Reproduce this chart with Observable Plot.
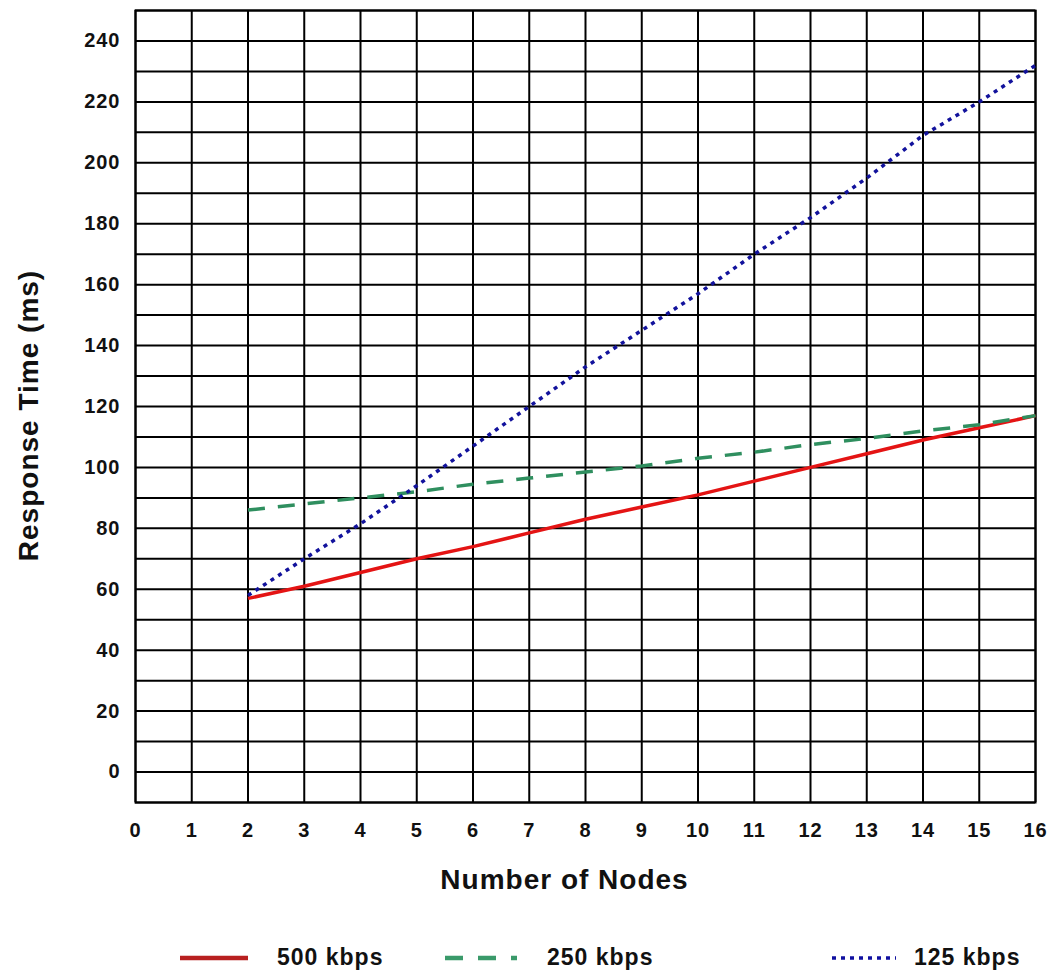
<!DOCTYPE html>
<html>
<head>
<meta charset="utf-8">
<script src="https://cdn.jsdelivr.net/npm/d3@7"></script>
<script src="https://cdn.jsdelivr.net/npm/@observablehq/plot@0.6"></script>
<style>
  body { margin: 0; background: #fff; font-family: "Liberation Sans", Arial, sans-serif; }
  #wrap { width: 1053px; }
  #legend { position: relative; width: 1053px; height: 62px; font-weight: bold; font-size: 23px; letter-spacing: 1px; color: #111; }
  #legend .sw { position: absolute; top: 44px; }
  #legend .lb { position: absolute; top: 34px; line-height: 26px; }
</style>
</head>
<body>
<div id="wrap"></div>
<script>
const nodes = [2, 3, 4, 5, 6, 7, 8, 9, 10, 11, 12, 13, 14, 15, 16];
const rt500 = [57, 61, 65.5, 70, 74, 78.5, 83, 87, 91, 95.5, 100, 104.5, 109, 113, 117];
const rt250 = [86, 88, 90, 92, 94.5, 96.5, 98.5, 100.5, 103, 105, 107.5, 109.5, 112, 114, 117];
const rt125 = [58, 70, 81.5, 94, 107, 120, 133, 145, 157, 170, 182, 195, 209, 220, 232];
const seriesNames = ["500 kbps", "250 kbps", "125 kbps"];
const xTicks = d3.range(0, 17, 1);
const yTicks = d3.range(0, 241, 20);
const yGrid = d3.range(-10, 251, 10);
const xTitle = "Number of Nodes";
const yTitle = "Response Time (ms)";

const colors = ["#e41414", "#2f8f5f", "#12129c"];
const dashes = [null, "17,13", "4,5"];

const seriesData = [rt500, rt250, rt125].map((vals, i) =>
  nodes.map((n, j) => ({ n, v: vals[j], s: seriesNames[i] })));

const font = '"Liberation Sans", Arial, sans-serif';

const chart = Plot.plot({
  width: 1053,
  height: 910,
  marginLeft: 135,
  marginRight: 18,
  marginTop: 10,
  marginBottom: 108,
  style: { fontFamily: font, fontSize: "20px", fontWeight: "bold", color: "#111", background: "#fff", letterSpacing: "1px" },
  x: { domain: [0, 16] },
  y: { domain: [-10, 250] },
  marks: [
    Plot.gridX(xTicks, { stroke: "#000", strokeOpacity: 1, strokeWidth: 2 }),
    Plot.gridY(yGrid, { stroke: "#000", strokeOpacity: 1, strokeWidth: 2 }),
    Plot.frame({ stroke: "#000", strokeWidth: 2 }),
    Plot.axisX(xTicks, { tickSize: 0, tickPadding: 20, label: null, tickFormat: d => String(d) }),
    Plot.axisY(yTicks, { tickSize: 0, tickPadding: 15, label: null, tickFormat: d => String(d) }),
    ...seriesData.map((d, i) => Plot.line(d, {
      x: "n", y: "v", stroke: colors[i], strokeWidth: 3.5,
      strokeDasharray: dashes[i], strokeLinecap: "butt"
    })),
    Plot.text([xTitle], { frameAnchor: "bottom", dy: 86, dx: -21, text: d => d, fontSize: 28, fontWeight: "bold", fill: "#111" }),
    Plot.text([yTitle], { frameAnchor: "left", dx: -106, dy: 9, rotate: -90, textAnchor: "middle", text: d => d, fontSize: 28, fontWeight: "bold", fill: "#111" })
  ]
});

const wrap = document.getElementById("wrap");
wrap.appendChild(chart);

// Legend
const legend = document.createElement("div");
legend.id = "legend";
const swLeft = [180, 445, 832];
const swWidth = [68, 72, 64];
const lbLeft = [277, 547, 914];
const legColors = ["#b82020", "#3a9a6a", "#1010a0"];
const legDash = [null, "18,15", "4,5"];
seriesNames.forEach((name, i) => {
  const svg = d3.create("svg").attr("class", "sw").attr("width", swWidth[i]).attr("height", 8)
    .style("left", swLeft[i] + "px");
  svg.append("line").attr("x1", 0).attr("x2", swWidth[i]).attr("y1", 4).attr("y2", 4)
    .attr("stroke", legColors[i]).attr("stroke-width", i === 2 ? 3.5 : 4.5)
    .attr("stroke-dasharray", legDash[i]);
  legend.appendChild(svg.node());
  const lb = document.createElement("span");
  lb.className = "lb";
  lb.style.left = lbLeft[i] + "px";
  lb.textContent = name;
  legend.appendChild(lb);
});
wrap.appendChild(legend);
</script>
</body>
</html>
